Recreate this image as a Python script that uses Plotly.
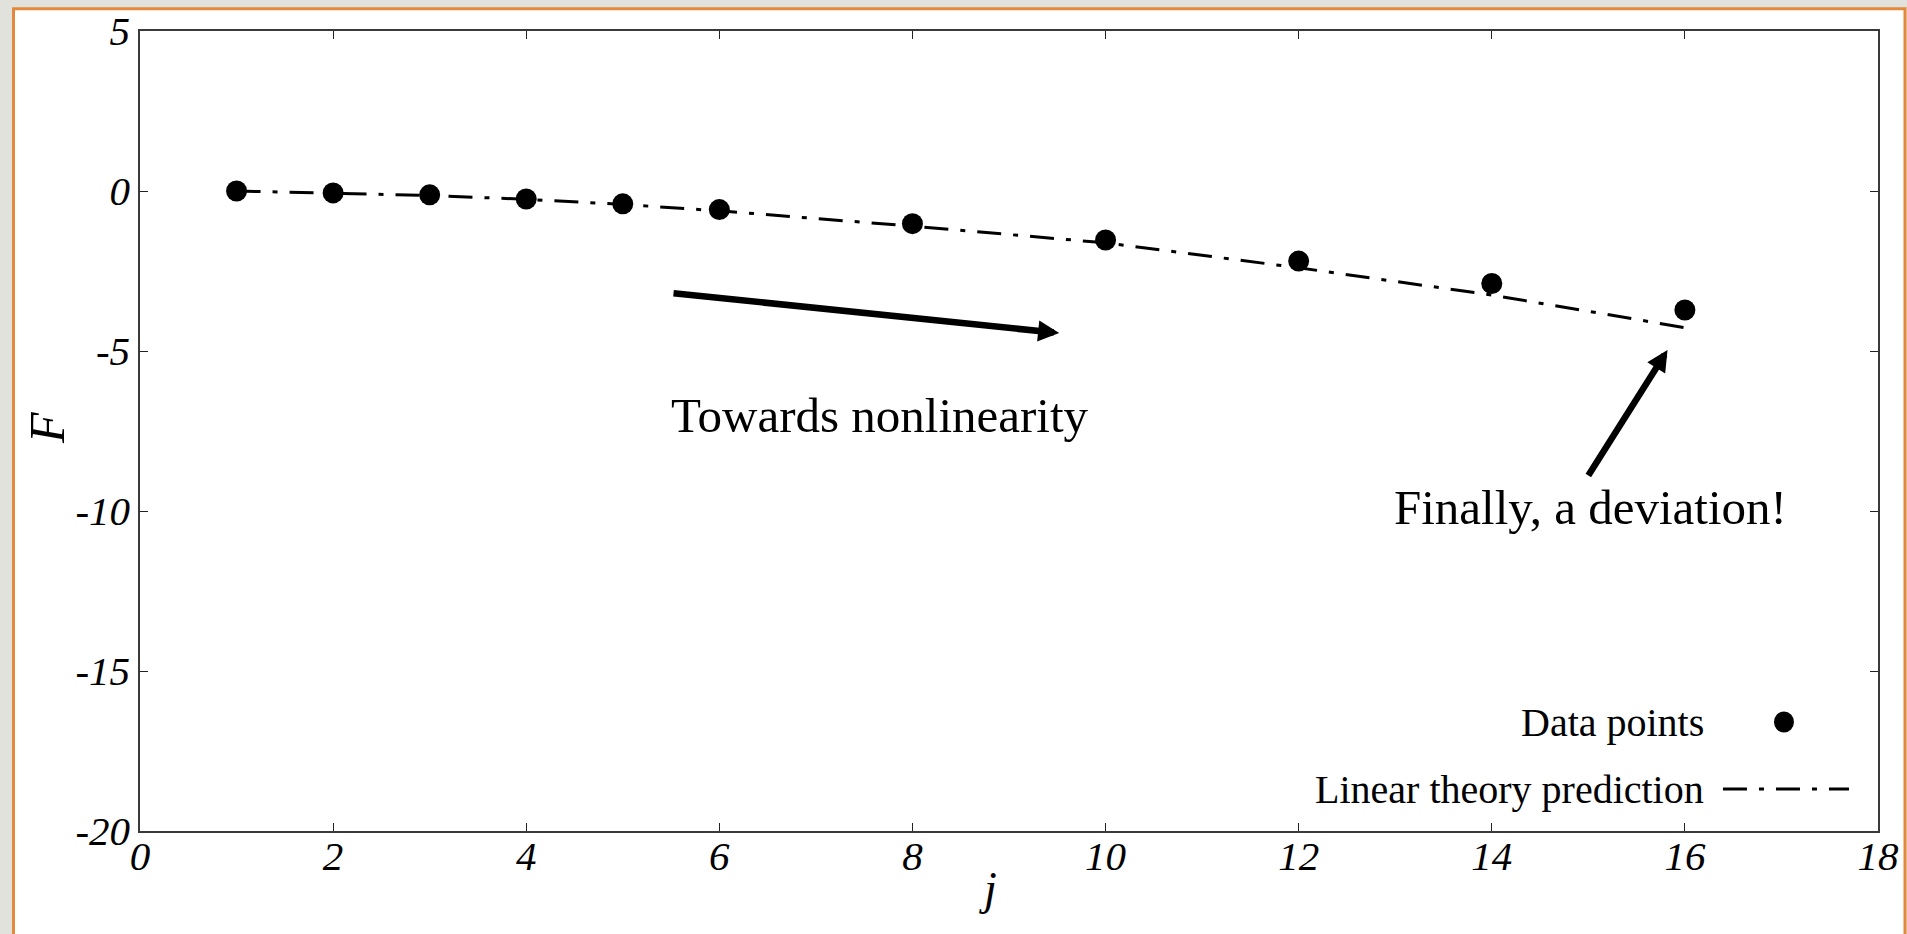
import plotly.graph_objects as go

# Measured free energy F against index j, and the linear-theory curve
j_values = [1, 2, 3, 4, 5, 6, 8, 10, 12, 14, 16]
F_data = [0.0, -0.06, -0.12, -0.25, -0.40, -0.58, -1.02, -1.53, -2.19, -2.89, -3.72]
F_linear = [0.0, -0.06, -0.14, -0.26, -0.42, -0.62, -1.10, -1.62, -2.40, -3.25, -4.27]

x_ticks = [0, 2, 4, 6, 8, 10, 12, 14, 16, 18]
y_ticks = [5, 0, -5, -10, -15, -20]

legend_labels = ["Data points", "Linear theory prediction"]

SERIF = "Liberation Serif, Times New Roman, serif"
DASH = "24px,12px,5px,12px"
ORANGE = "#e2893b"

fig = go.Figure()

fig.add_trace(go.Scatter(
    x=j_values, y=F_linear, mode="lines",
    line=dict(color="black", width=3, dash=DASH),
    name=legend_labels[1], showlegend=False, hoverinfo="skip",
))
fig.add_trace(go.Scatter(
    x=j_values, y=F_data, mode="markers",
    marker=dict(color="black", size=21, symbol="circle"),
    name=legend_labels[0], showlegend=False,
))

axis_common = dict(
    showgrid=False, zeroline=False, automargin=False,
    showline=True, linecolor="#3a3a3a", linewidth=1.5, mirror="ticks",
    ticks="inside", ticklen=8, tickwidth=1, tickcolor="#222",
    tickfont=dict(family=SERIF, size=41, color="black", style="italic"),
)

fig.update_xaxes(
    range=[0, 18], tickmode="array", tickvals=x_ticks,
    ticktext=[str(v) for v in x_ticks], ticklabelstandoff=-12,
    **axis_common,
)
fig.update_yaxes(
    range=[-20, 5], tickmode="array", tickvals=y_ticks,
    ticktext=[str(v) for v in y_ticks], ticklabelstandoff=0,
    **axis_common,
)

# Axis titles
fig.add_annotation(
    x=0.4879, y=-0.07125, xref="paper", yref="paper", xanchor="center", yanchor="middle",
    text="j", showarrow=False,
    font=dict(family=SERIF, size=46, color="black", style="italic"),
)
fig.add_annotation(
    x=-0.0535, y=0.50375, xref="paper", yref="paper", xanchor="center", yanchor="middle",
    text="F", textangle=-90, showarrow=False,
    font=dict(family=SERIF, size=50, color="black", style="italic"),
)

# Slide frame: white panel with an orange edge on a grey page
fig.add_shape(
    type="rect", xref="paper", yref="paper", layer="below",
    x0=-0.07279, x1=1.01554, y0=-0.15, y1=1.02788,
    fillcolor="white", line=dict(color=ORANGE, width=3),
)

# Arrows
fig.add_annotation(
    x=9.52, y=-4.44, ax=5.51, ay=-3.19, xref="x", yref="y", axref="x", ayref="y",
    text="", showarrow=True, arrowhead=2, arrowsize=0.65, arrowwidth=6.5,
    arrowcolor="black", standoff=0, startstandoff=0,
)
fig.add_annotation(
    x=15.82, y=-4.97, ax=14.99, ay=-8.94, xref="x", yref="y", axref="x", ayref="y",
    text="", showarrow=True, arrowhead=2, arrowsize=0.65, arrowwidth=6.5,
    arrowcolor="black", standoff=0, startstandoff=0,
)

# Text notes
fig.add_annotation(
    x=7.66, y=-7.03, xref="x", yref="y", text="Towards nonlinearity", showarrow=False,
    font=dict(family=SERIF, size=49, color="black"),
)
fig.add_annotation(
    x=15.02, y=-9.9, xref="x", yref="y", text="Finally, a deviation!", showarrow=False,
    font=dict(family=SERIF, size=49, color="black"),
)

# Legend, drawn with the label to the left of its key
legend_font = dict(family=SERIF, size=40, color="black")
fig.add_annotation(
    x=0.9010, y=0.13625, xref="paper", yref="paper", xanchor="right", yanchor="middle",
    text=legend_labels[0], showarrow=False, font=legend_font,
)
fig.add_annotation(
    x=0.9010, y=0.0525, xref="paper", yref="paper", xanchor="right", yanchor="middle",
    text=legend_labels[1], showarrow=False, font=legend_font,
)
fig.add_shape(
    type="circle", xref="paper", yref="paper", xsizemode="pixel", ysizemode="pixel",
    xanchor=0.9459, yanchor=0.13625, x0=-10, x1=10, y0=-10.5, y1=10.5,
    fillcolor="black", line=dict(color="black", width=0),
)
fig.add_shape(
    type="line", xref="paper", yref="paper",
    x0=0.9108, x1=0.9833, y0=0.0525, y1=0.0525,
    line=dict(color="black", width=3, dash=DASH),
)

fig.update_layout(
    width=1907, height=934,
    margin=dict(l=140, r=29, t=31, b=103),
    paper_bgcolor="#e2e2dd", plot_bgcolor="rgba(0,0,0,0)",
    showlegend=False,
)

fig.write_html("out.html")
